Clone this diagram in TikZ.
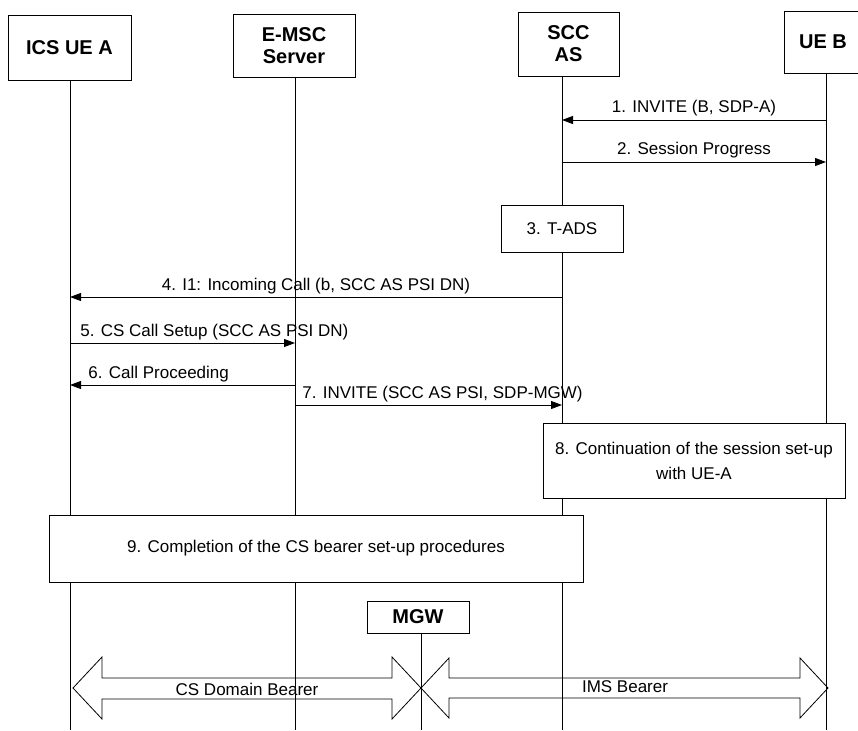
\documentclass[tikz,border=0pt]{standalone}
\usepackage{fontspec}
\setmainfont{Liberation Sans}
\usetikzlibrary{arrows.meta,positioning}

\begin{document}
\begin{tikzpicture}[
  x=1pt, y=-1pt,
  ent/.style={rectangle, draw, fill=white, line width=0.8pt, align=center,
    font=\bfseries\fontsize{20}{22}\selectfont},
  proc/.style={rectangle, draw, fill=white, line width=0.8pt, align=center,
    font=\fontsize{17}{25}\selectfont},
  life/.style={line width=0.8pt},
  msg/.style={-{Triangle[length=11pt,width=8pt]}, line width=0.8pt},
  lbl/.style={font=\fontsize{17}{20}\selectfont, inner sep=0pt, anchor=base, yshift=7pt},
  bearer/.style={draw, line width=0.8pt},
  btxt/.style={font=\fontsize{17}{20}\selectfont, inner sep=0pt}
]
  \useasboundingbox (0,0) rectangle (858,730);

  \node[ent, minimum width=123pt, minimum height=65pt] (uea) at (69.5,47.5) {ICS UE A};
  \node[ent, minimum width=122pt, minimum height=63pt] (msc) at (294,45.5) {E-MSC\\Server};
  \node[ent, minimum width=101pt, minimum height=64pt] (scc) at (568.5,44) {SCC\\AS};
  \node[ent, minimum width=78pt, minimum height=62pt] (ueb) at (823,42) {UE B};
  \node[ent, minimum width=102pt, minimum height=32pt] (mgw) at (418,617) {MGW};

  \coordinate (uea-end) at (70,730);
  \coordinate (msc-end) at (295,730);
  \coordinate (scc-end) at (562,730);
  \coordinate (ueb-end) at (826,730);
  \coordinate (mgw-end) at (421,730);

  \draw[life] (uea.south -| uea-end) -- (uea-end);
  \draw[life] (msc.south -| msc-end) -- (msc-end);
  \draw[life] (scc.south -| scc-end) -- (scc-end);
  \draw[life] (ueb.south -| ueb-end) -- (ueb-end);
  \draw[life] (mgw.south -| mgw-end) -- (mgw-end);

  \coordinate (m1) at (0,120);
  \coordinate (m2) at (0,162);
  \coordinate (m4) at (0,297);
  \coordinate (m5) at (0,343);
  \coordinate (m6) at (0,385);
  \coordinate (m7) at (0,405);

  \draw[msg] (ueb-end |- m1) -- node[lbl] {1. INVITE (B, SDP-A)} (scc-end |- m1);
  \draw[msg] (scc-end |- m2) -- node[lbl] {2. Session Progress} (ueb-end |- m2);

  \node[proc, minimum width=122pt, minimum height=47pt] (tads) at (562,228.5) {3. T-ADS};

  \draw[msg] (scc-end |- m4) -- node[lbl] {4. I1: Incoming Call (b, SCC AS PSI DN)} (uea-end |- m4);
  \draw[msg] (uea-end |- m5) -- node[lbl, pos=0, anchor=base west, xshift=10pt] {5. CS Call Setup (SCC AS PSI DN)} (msc-end |- m5);
  \draw[msg] (msc-end |- m6) -- node[lbl, pos=1, anchor=base west, xshift=18pt] {6. Call Proceeding} (uea-end |- m6);
  \draw[msg] (msc-end |- m7) -- node[lbl, pos=0, anchor=base west, xshift=7pt] {7. INVITE (SCC AS PSI, SDP-MGW)} (scc-end |- m7);

  \node[proc, minimum width=302pt, minimum height=75pt] (cont) at (694,460.5) {8. Continuation of the session set-up\\with UE-A};
  \node[proc, minimum width=534pt, minimum height=67pt] (compl) at (316,548.5) {9. Completion of the CS bearer set-up procedures};

  \draw[bearer] (73,688) -- (102,657) -- (102,678) -- (392,678) -- (392,657) -- (421,688)
    -- (392,719) -- (392,699) -- (102,699) -- (102,719) -- cycle;
  \draw[bearer] (421,688) -- (449,658) -- (449,678) -- (800,678) -- (800,658) -- (828,688)
    -- (800,718) -- (800,698) -- (449,698) -- (449,718) -- cycle;
  \node[btxt] (csb) at (247,689) {CS Domain Bearer};
  \node[btxt] (imsb) at (625,687) {IMS Bearer};
\end{tikzpicture}
\end{document}
